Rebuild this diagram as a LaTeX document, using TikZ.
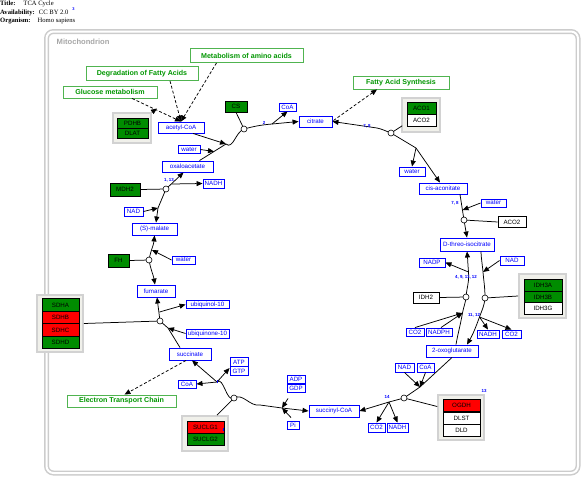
\documentclass[tikz,border=0pt]{standalone}
\usepackage{fontspec}
\setmainfont{Liberation Sans}
\newfontfamily\hdrfont{Liberation Serif}
\usetikzlibrary{arrows.meta,calc}
\definecolor{gfill}{RGB}{0,140,0}
\definecolor{rfill}{RGB}{255,0,0}
\definecolor{lbltext}{RGB}{0,150,0}
\definecolor{lbldraw}{RGB}{80,180,80}
\definecolor{metblue}{RGB}{0,0,255}
\definecolor{grpfill}{RGB}{240,240,234}
\begin{document}
\begin{tikzpicture}[x=1pt,y=-1pt,
  met/.style={draw=metblue,fill=white,text=metblue,line width=0.9pt,inner sep=0pt,font=\fontsize{6.2}{6.5}\selectfont},
  gene/.style={draw=black,line width=0.6pt,inner sep=0pt,font=\fontsize{6.2}{6.5}\selectfont},
  ggene/.style={gene,fill=gfill},
  rgene/.style={gene,fill=rfill},
  wgene/.style={gene,fill=white},
  grp/.style={draw=gray!35,fill=grpfill,line width=1.6pt,inner sep=0pt},
  lbl/.style={draw=lbldraw,fill=white,text=lbltext,line width=0.9pt,inner sep=0pt,font=\bfseries\fontsize{7.1}{7.5}\selectfont},
  anc/.style={circle,draw=black,fill=white,line width=0.6pt,minimum size=6pt,inner sep=0pt},
  rnum/.style={text=metblue,font=\bfseries\fontsize{4.4}{5}\selectfont,inner sep=0pt},
  ln/.style={line width=0.75pt,draw=black},
  ar/.style={ln,-{Triangle[length=6pt,width=5pt]}},
  bar/.style={ln,{Triangle[length=6pt,width=5pt]}-{Triangle[length=6pt,width=5pt]}},
  dar/.style={ln,dash pattern=on 3pt off 2pt,-{Triangle[length=6pt,width=5pt]}},
  ]
\useasboundingbox (0,0) rectangle (584,480);
% header
\node[anchor=west,inner sep=0pt,font=\hdrfont\fontsize{6.6}{7}\selectfont] (h1) at (0,4) {\textbf{Title:}\hspace{8pt}TCA Cycle};
\node[anchor=west,inner sep=0pt,font=\hdrfont\fontsize{6.6}{7}\selectfont] (h2) at (0,12.5) {\textbf{Availability:}\hspace{4pt}CC BY 2.0};
\node[anchor=west,inner sep=0pt,font=\hdrfont\fontsize{6.6}{7}\selectfont] (h3) at (0,20.5) {\textbf{Organism:}\hspace{7pt}Homo sapiens};
\node[inner sep=0pt,text=metblue,font=\bfseries\fontsize{4}{4}\selectfont] (h2m) at (73.5,9) {3};
% mitochondrion
\draw[draw=gray!40,double=white,double distance=2pt,line width=1.5pt,rounded corners=7pt] (46.5,31.5) rectangle (578,473);
\node[anchor=west,inner sep=0pt,text=gray!70,font=\bfseries\fontsize{7.6}{8}\selectfont] (mito) at (56.5,42) {Mitochondrion};

% labels
\node[lbl,minimum width=113pt,minimum height=14pt] (amino) at (246.5,55.5) {Metabolism of amino acids};
\node[lbl,minimum width=112pt,minimum height=14pt] (degr) at (142,73.5) {Degradation of Fatty Acids};
\node[lbl,minimum width=94pt,minimum height=12pt] (gluc) at (110,92) {Glucose metabolism};
\node[lbl,minimum width=96pt,minimum height=13pt] (fas) at (401,82.5) {Fatty Acid Synthesis};
\node[lbl,minimum width=109pt,minimum height=12pt] (etc) at (121.5,401) {Electron Transport Chain};

% metabolites
\node[met,minimum width=46pt,minimum height=11pt] (acoa) at (181,127.5) {acetyl-CoA};
\node[met,minimum width=17pt,minimum height=8pt] (coa1) at (287.5,107) {CoA};
\node[met,minimum width=33pt,minimum height=11pt] (cit) at (315.5,121.5) {citrate};
\node[met,minimum width=22pt,minimum height=7.5pt] (wat1) at (189,149.5) {water};
\node[met,minimum width=51pt,minimum height=11pt] (oaa) at (187.5,166.5) {oxaloacetate};
\node[met,minimum width=21pt,minimum height=9pt] (nadh1) at (213.5,183.5) {NADH};
\node[met,minimum width=19pt,minimum height=9pt] (nad1) at (133.5,211.5) {NAD};
\node[met,minimum width=45pt,minimum height=12pt] (mal) at (154.5,229) {(S)-malate};
\node[met,minimum width=23pt,minimum height=8pt] (wat2) at (183.5,260) {water};
\node[met,minimum width=38pt,minimum height=12pt] (fum) at (156,291) {fumarate};
\node[met,minimum width=43pt,minimum height=7.5pt] (uql) at (207.5,304.5) {ubiquinol-10};
\node[met,minimum width=43pt,minimum height=9pt] (uqn) at (207.5,333.5) {ubiquinone-10};
\node[met,minimum width=42pt,minimum height=12pt] (suc) at (190,354) {succinate};
\node[met,minimum width=18pt,minimum height=8.5pt] (atp) at (239,362) {ATP};
\node[met,minimum width=18pt,minimum height=8.5pt] (gtp) at (239,371) {GTP};
\node[met,minimum width=18pt,minimum height=8pt] (coa2) at (187,384) {CoA};
\node[met,minimum width=18pt,minimum height=7.5pt] (adp) at (296,379.5) {ADP};
\node[met,minimum width=18pt,minimum height=8pt] (gdp) at (296,388) {GDP};
\node[met,minimum width=12pt,minimum height=8pt] (pi) at (293,425) {Pi};
\node[met,minimum width=50pt,minimum height=12pt] (sca) at (334,411) {succinyl-CoA};
\node[met,minimum width=17pt,minimum height=9pt] (co2a) at (376.5,427.5) {CO2};
\node[met,minimum width=21pt,minimum height=9pt] (nadh2) at (397.5,427.5) {NADH};
\node[met,minimum width=19pt,minimum height=9pt] (nad2) at (404.5,367.5) {NAD};
\node[met,minimum width=17pt,minimum height=9pt] (coa3) at (425.5,367.5) {CoA};
\node[met,minimum width=52pt,minimum height=12pt] (oxg) at (452,351) {2-oxoglutarate};
\node[met,minimum width=48pt,minimum height=11pt] (cis) at (443,188.5) {cis-aconitate};
\node[met,minimum width=26pt,minimum height=9pt] (wat3) at (412,171.5) {water};
\node[met,minimum width=25pt,minimum height=8pt] (wat4) at (493.5,203) {water};
\node[met,minimum width=54pt,minimum height=13pt] (iso) at (467,244.5) {D-threo-isocitrate};
\node[met,minimum width=26pt,minimum height=9pt] (nadp) at (432,262.5) {NADP};
\node[met,minimum width=24pt,minimum height=9pt] (nad3) at (512,260.5) {NAD};
\node[met,minimum width=18pt,minimum height=8pt] (co2b) at (415,332) {CO2};
\node[met,minimum width=26pt,minimum height=8pt] (nadph) at (439,332) {NADPH};
\node[met,minimum width=22pt,minimum height=8pt] (nadh3) at (488,334) {NADH};
\node[met,minimum width=19pt,minimum height=8pt] (co2c) at (511.5,334) {CO2};

% gene groups
\node[grp,minimum width=38pt,minimum height=30pt] (pdhg) at (132,128) {};
\node[ggene,minimum width=31pt,minimum height=10pt] (pdhb) at (132.5,123.5) {PDHB};
\node[ggene,minimum width=31pt,minimum height=10pt] (dlat) at (132.5,133.5) {DLAT};
\node[ggene,minimum width=22pt,minimum height=11pt] (cs) at (236,106.5) {CS};
\node[grp,minimum width=38pt,minimum height=34pt] (acog) at (421,115) {};
\node[ggene,minimum width=29pt,minimum height=11.5pt] (aco1) at (421.5,108.5) {ACO1};
\node[wgene,minimum width=29pt,minimum height=11.5pt] (aco2) at (421.5,120.5) {ACO2};
\node[ggene,minimum width=30pt,minimum height=13pt] (mdh2) at (125,189.5) {MDH2};
\node[ggene,minimum width=21pt,minimum height=13pt] (fh) at (118.5,260.5) {FH};
\node[grp,minimum width=46pt,minimum height=57pt] (sdhg) at (60,323.5) {};
\node[ggene,minimum width=37pt,minimum height=12.5pt] (sdha) at (60.5,305) {SDHA};
\node[rgene,minimum width=37pt,minimum height=12.5pt] (sdhb) at (60.5,317.5) {SDHB};
\node[rgene,minimum width=37pt,minimum height=12.5pt] (sdhc) at (60.5,330) {SDHC};
\node[ggene,minimum width=37pt,minimum height=12.5pt] (sdhd) at (60.5,342.5) {SDHD};
\node[grp,minimum width=46pt,minimum height=35pt] (suclg) at (205,433.5) {};
\node[rgene,minimum width=37pt,minimum height=12pt] (suclg1) at (205.5,427) {SUCLG1};
\node[ggene,minimum width=37pt,minimum height=12pt] (suclg2) at (205.5,439) {SUCLG2};
\node[grp,minimum width=46pt,minimum height=45pt] (ogdhg) at (461,417.5) {};
\node[rgene,minimum width=37pt,minimum height=12.5pt] (ogdh) at (461.5,405.5) {OGDH};
\node[wgene,minimum width=37pt,minimum height=12pt] (dlst) at (461.5,418) {DLST};
\node[wgene,minimum width=37pt,minimum height=12pt] (dld) at (461.5,430) {DLD};
\node[wgene,minimum width=28pt,minimum height=10.5pt] (aco2b) at (512,222) {ACO2};
\node[wgene,minimum width=26pt,minimum height=11pt] (idh2) at (426,297.5) {IDH2};
\node[grp,minimum width=47pt,minimum height=44pt] (idh3g) at (542.5,296) {};
\node[ggene,minimum width=38pt,minimum height=11.5pt] (idh3a) at (543,285.5) {IDH3A};
\node[ggene,minimum width=38pt,minimum height=11.5pt] (idh3b) at (543,297) {IDH3B};
\node[wgene,minimum width=38pt,minimum height=11.5pt] (idh3gg) at (543,308.5) {IDH3G};

% anchor coordinates
\coordinate (cCS) at (244,129);
\coordinate (cACO) at (391,133);
\coordinate (cACO2) at (464,220);
\coordinate (cIDH2) at (466,297);
\coordinate (cIDH3) at (485,298);
\coordinate (cOGDH) at (404,398);
\coordinate (cSUC) at (234,398);
\coordinate (cSDH) at (160,321);
\coordinate (cFH) at (149,260);
\coordinate (cMDH) at (166,189);
% junction coordinates
\coordinate (jCS) at (226,144);
\coordinate (jW1) at (214,151.5);
\coordinate (jCoA1) at (272,124);
\coordinate (jACO) at (416,148);
\coordinate (jNADP) at (468.5,272);
\coordinate (jNAD3) at (483,272);
\coordinate (jCO2b) at (462.5,313);
\coordinate (jNADH3) at (479.5,317);
\coordinate (jOG) at (420,387);
\coordinate (jOG2) at (389,402);
\coordinate (jATP) at (217,382);
\coordinate (jADP) at (282,408);
\coordinate (jSDH) at (168,328);
\coordinate (jUQL) at (159.5,312);
\coordinate (jFHw) at (152,250);
\coordinate (jMDHn) at (158,208);
\coordinate (jMDHh) at (172,184);
\coordinate (jPDH) at (157,108.5);

% dashed connectors
\draw[dar] ($(gluc.south)+(22,0)$) -- (acoa.north);
\draw[dar] ($(degr.south)+(28,0)$) -- (acoa.north);
\draw[dar] ($(amino.south)+(-30,0)$) -- (acoa.north);
\draw[dar] (pdhg.north east) -- (jPDH);
\draw[dar] ($(cit.east)+(1,-1)$) -- ($(fas.south)+(-24,0)$);
\draw[dar] ($(suc.south)+(-4,0)$) -- ($(etc.north)+(3,0)$);

% CS reaction
\draw[ar] ($(oaa.north)+(12,0)$) -- (jCS) to[out=-40,in=200] (cCS) to[out=15,in=185] (jCoA1) -- (cit.west);
\draw[ar] ($(acoa.south)+(12,0)$) -- (jCS);
\draw[ar] (wat1.east) -- (jW1);
\draw[ar] (jCoA1) -- (coa1.south);
\draw[ln] (cs.south) -- (cCS);
% ACO reaction
\draw[bar] (cit.east) -- (377,128) to[out=-12,in=160] (cACO) -- (jACO) -- ($(cis.north)+(-3,0)$);
\draw[ar] (jACO) -- (wat3.north);
\draw[ln] ($(acog.south west)+(1,-7)$) -- (cACO);
% ACO2 reaction
\draw[ar] ($(cis.south)+(17,0)$) -- (cACO2) -- (iso.north);
\draw[ar] (wat4.west) -- (462.5,210);
\draw[ln] (aco2b.west) -- (cACO2);
% IDH reactions
\draw[ln,{Triangle[length=6pt,width=5pt]}-] (iso.south) to[out=-85,in=95] (jNADP) to[out=-85,in=85] (cIDH2) to[out=-95,in=80] (jCO2b) to[out=-100,in=80] ($(oxg.north)+(4,0)$);
\draw[ar] ($(iso.south)+(14,0)$) to[out=-88,in=95] (jNAD3) to[out=-85,in=90] (cIDH3) to[out=-95,in=70] (jNADH3) to[out=-110,in=60] ($(oxg.north)+(15,0)$);
\draw[ar] (jNADP) -- (nadp.east);
\draw[ar] (nad3.west) -- (jNAD3);
\draw[ar] (co2b.north) -- (jCO2b);
\draw[ar] ($(nadph.north)+(2,0)$) -- (jCO2b);
\draw[ar] (jNADH3) -- (nadh3.north);
\draw[ar] (jNADH3) -- (co2c.north);
\draw[ln] (idh2.east) -- (cIDH2);
\draw[ln] (idh3g.west) -- (cIDH3);
% OGDH reaction
\draw[ar] (oxg.south) -- (jOG) -- (cOGDH) -- (jOG2) -- (sca.east);
\draw[ar] (nad2.south) -- (jOG);
\draw[ar] (coa3.south) -- (jOG);
\draw[ar] (jOG2) -- (co2a.north);
\draw[ar] (jOG2) -- (nadh2.north);
\draw[ln] ($(ogdhg.west)+(0,-11)$) -- (cOGDH);
% SUCLG reaction
\draw[bar] ($(suc.south)+(2,0)$) -- (jATP) to[out=45,in=215] (cSUC) to[out=30,in=190] (260,405) -- (jADP) -- (sca.west);
\draw[ar] (jATP) -- ($(gtp.west)+(0,-3)$);
\draw[ar] (jATP) -- (coa2.east);
\draw[ar] ($(gdp.south)+(-8,6)$) -- (jADP);
\draw[ar] ($(pi.north)+(-2,-3)$) -- (jADP);
\draw[ln] ($(suclg.north)+(12,0)$) -- (cSUC);
\node[fill=metblue,inner sep=0pt,minimum width=1.5pt,minimum height=3pt] (smk1) at (223.5,429) {};
\node[fill=metblue,inner sep=0pt,minimum width=1.5pt,minimum height=2.5pt] (smk2) at (217.5,381.5) {};
% SDH reaction
\draw[ar] ($(suc.north)+(-10,0)$) -- (jSDH) -- (cSDH) -- ($(fum.south)+(1,0)$);
\draw[ar] (jUQL) -- (uql.west);
\draw[ar] (uqn.west) -- (jSDH);
\draw[ln] (sdhg.east) -- (cSDH);
% FH reaction
\draw[bar] ($(fum.north)+(-1,0)$) to[out=100,in=-80] (cFH) to[out=80,in=-95] (mal.south);
\draw[ar] (wat2.west) -- (jFHw);
\draw[ln] (fh.east) -- (cFH);
% MDH reaction
\draw[bar] ($(mal.north)+(1.5,0)$) -- (jMDHn) -- (cMDH) -- ($(oaa.south)+(-4,0)$);
\draw[ar] (nad1.east) -- (jMDHn);
\draw[ar] (jMDHh) -- (nadh1.west);
\draw[ln] (mdh2.east) -- (cMDH);

% anchors
\foreach \c in {CS,ACO,ACO2,IDH2,IDH3,OGDH,SUC,SDH,FH,MDH}{\node[anc] (a\c) at (c\c) {};}
% reaction numbers
\node[rnum] (n2) at (264,123) {2};
\node[rnum] (n78a) at (367,126) {7, 8};
\node[rnum] (n78b) at (455,203) {7, 8};
\node[rnum] (n49) at (466,277) {4, 9, 11, 12};
\node[rnum] (n1112) at (474,315) {11, 12};
\node[rnum] (n14) at (387,397) {14};
\node[rnum] (n13) at (484,391) {13};
\node[rnum] (n113) at (169,180) {1, 13};
\end{tikzpicture}
\end{document}
